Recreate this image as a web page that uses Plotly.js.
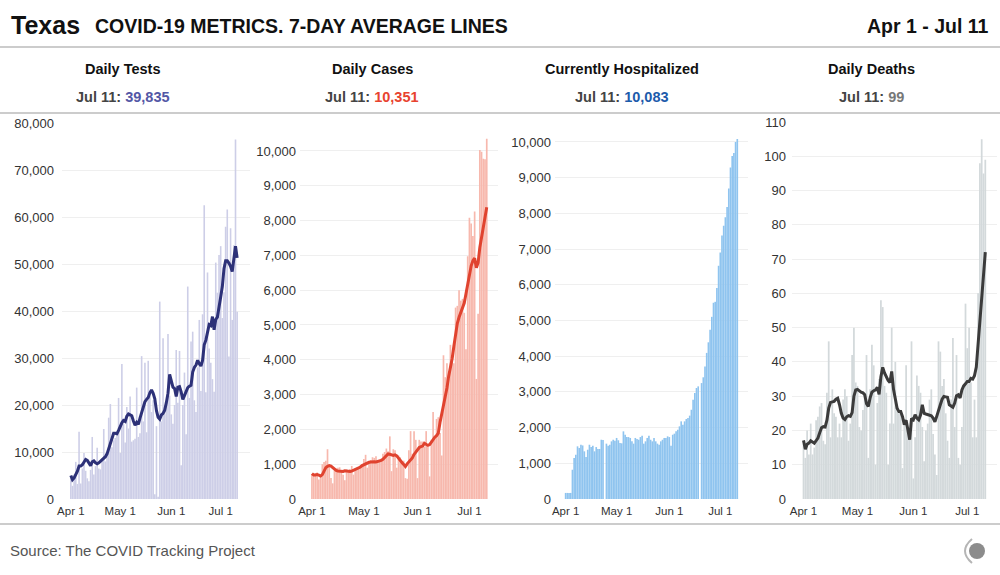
<!DOCTYPE html>
<html><head><meta charset="utf-8">
<script src="https://cdn.plot.ly/plotly-3.0.1.min.js"></script>
<style>html,body{margin:0;padding:0;background:#fff}#chart{width:1000px;height:575px}</style>
</head><body><div id="chart"></div>
<script>
// Day index 0 = Apr 1, 101 = Jul 11
const dayIndex = []; for (let i = 0; i < 102; i++) dayIndex.push(i);
const tickDays = [0, 30, 61, 91];
const tickLabels = ['Apr 1', 'May 1', 'Jun 1', 'Jul 1'];

const testsDaily = [4500,2800,5200,7900,3200,14300,3300,6500,9800,6000,
 4400,3800,6200,13200,5200,7000,10900,6500,6300,8200,
 14900,8000,9500,17300,20200,11000,12500,13000,13800,21500,
 9800,28700,16000,12000,19600,15000,21800,12200,12500,12800,
 23700,13200,14000,30400,16500,29000,14200,29400,22000,18500,
 21000,1000,15500,500,42000,16500,34200,18000,20500,35100,
 22000,18000,16000,20000,31700,20500,31500,7200,20000,26900,
 13800,45200,21500,33500,35600,21000,18500,28000,38100,23000,
 39300,62500,22700,48200,32000,29000,25500,22800,50300,43900,
 51900,53800,38500,44000,57900,61600,30300,57600,38100,54000,
 76500,39835];
const testsAvg = [5000,4100,4500,5200,5900,7000,7000,7300,7900,8400,
 8200,7700,7100,7900,8100,7700,7500,7700,8000,8200,
 8600,9000,9600,10700,11900,13000,14000,14000,13900,14600,
 15500,16200,16700,16500,17600,18100,17900,17700,16600,15700,
 16300,15900,17200,18500,19200,20700,21200,21600,22600,23200,
 22500,21300,18800,17400,17000,17900,18200,18900,20500,22500,
 26500,25000,23800,23500,21800,23800,23900,22800,21200,22000,
 23000,23700,24000,24200,27000,28000,28500,29500,28800,28300,
 29500,32800,33800,35500,37100,36900,38800,36000,38200,38700,
 40500,43000,45200,49000,50700,50700,50200,49500,48400,51000,
 53800,51300];

const casesDaily = [720,700,740,760,560,680,1000,1060,1100,1430,
 940,600,450,820,880,900,910,780,700,540,
 850,820,860,950,700,880,900,920,960,1000,
 1150,1270,900,1050,1120,1200,1180,1230,1080,1100,
 1150,1300,1350,1450,1370,1800,800,1430,1400,900,
 1250,1200,1050,1100,600,580,1400,1950,1300,1950,
 1700,600,1700,1650,1650,1500,1950,1500,650,1700,
 2500,1750,2300,2350,1900,1250,4130,3500,3900,3450,
 4430,4100,3900,5500,5550,6000,5700,5750,5350,4300,
 6975,8080,7915,7555,8258,3450,5320,10030,9980,9780,
 9765,10351];
const casesAvg = [730,690,690,700,685,660,700,810,900,940,
 960,945,900,850,820,805,795,785,790,810,
 805,785,790,800,820,840,865,890,920,960,
 990,1015,1035,1055,1065,1075,1070,1065,1075,1085,
 1110,1140,1200,1250,1295,1285,1270,1255,1270,1240,
 1175,1100,1050,995,935,1010,1075,1130,1180,1280,
 1360,1420,1480,1505,1520,1600,1560,1540,1565,1640,
 1720,1775,1820,1890,2200,2430,2640,2870,3190,3530,
 3760,4030,4390,4800,5050,5220,5360,5480,5630,5900,
 6200,6470,6700,6850,6918,6645,6792,7228,7500,7767,
 8083,8382];

const hospCurrent = [170,170,170,170,820,1150,1240,1475,1430,1520,
 1500,1335,1175,1380,1520,1455,1495,1335,1455,1400,
 1400,1660,1650,null,1550,1495,1520,1615,1660,1635,
 1710,1645,1570,1560,1895,1800,1735,1735,1710,1615,
 1550,1710,1680,1660,1735,1775,1550,1615,1710,1775,
 1660,1615,1710,1615,1550,1520,1615,1660,1710,1710,
 1755,1735,1495,1800,1830,1895,1940,2035,2175,2080,
 2175,2240,2270,2335,2500,2780,2970,3110,3155,null,
 3247,3409,3711,4092,4389,4739,5102,5497,5523,5913,
 6533,6904,7382,7652,7890,8181,8698,9286,9610,9689,
 10002,10083];

const deathsDaily = [16,12,20,13,22,13,15,23,24,27,
 28,17,16,31,46,18,32,25,24,18,
 22,18,29,32,30,17,22,42,50,34,
 33,21,20,26,31,42,12,32,45,39,
 10,28,35,58,56,33,31,10,22,50,
 22,40,27,25,26,9,22,39,21,19,
 46,6,18,36,33,31,21,11,20,22,
 29,32,19,13,7,46,43,33,35,25,
 17,12,29,47,21,42,12,10,21,33,
 57,44,50,34,18,29,18,60,98,105,
 95,99];
const deathsAvg = [17.1,14.5,16.0,16.3,17.0,16.6,16.3,17.0,17.8,19.3,
 20.8,21.1,21.0,23.0,26.5,28.2,28.4,28.5,29.1,29.4,
 27.5,25.0,23.6,23.2,24.0,24.3,24.1,25.2,30.0,31.8,
 32.0,31.5,31.2,31.0,30.4,27.8,27.0,29.5,31.2,31.6,
 31.8,32.6,30.5,35.7,38.4,36.8,35.6,34.6,34.0,37.2,
 32.0,29.5,26.5,25.5,25.5,24.0,21.7,23.0,20.0,17.3,
 23.5,23.1,24.6,23.6,23.1,24.5,27.5,25.0,24.8,24.6,
 24.6,24.3,23.6,22.5,24.1,26.2,27.5,29.1,29.9,29.8,
 29.7,27.5,27.0,26.8,28.0,30.1,30.4,29.5,31.8,33.0,
 33.6,34.3,34.3,35.2,35.0,36.0,38.5,45.0,52.5,60.0,
 66.5,72.0];

const panelTitles = ['Daily Tests', 'Daily Cases', 'Currently Hospitalized', 'Daily Deaths'];
const latestLabels = ['39,835', '10,351', '10,083', '99'];

const W = 1000, H = 575;
const px = v => v / W;
const py = v => (H - v) / H;
const FONT = 'Liberation Sans, Arial, sans-serif';
const HEAD = 'Liberation Sans, Arial, sans-serif';

const barColors = ['#cdcee7', '#f7b8ad', '#8fc4ef', '#d3d9db'];
const lineColors = ['#2d3178', '#e0432f', null, '#3b3b3b'];
const numColors = ['#5357a6', '#e8432f', '#1d5bab', '#777777'];

const traces = [
  {type:'bar', x:dayIndex, y:testsDaily, xaxis:'x', yaxis:'y', marker:{color:barColors[0], line:{width:0}}},
  {type:'scatter', mode:'lines', x:dayIndex, y:testsAvg, xaxis:'x', yaxis:'y', line:{color:lineColors[0], width:3}},
  {type:'bar', x:dayIndex, y:casesDaily, xaxis:'x2', yaxis:'y2', marker:{color:barColors[1], line:{width:0}}},
  {type:'scatter', mode:'lines', x:dayIndex, y:casesAvg, xaxis:'x2', yaxis:'y2', line:{color:lineColors[1], width:3}},
  {type:'bar', x:dayIndex, y:hospCurrent, xaxis:'x3', yaxis:'y3', marker:{color:barColors[2], line:{width:0}}},
  {type:'bar', x:dayIndex, y:deathsDaily, xaxis:'x4', yaxis:'y4', marker:{color:barColors[3], line:{width:0}}},
  {type:'scatter', mode:'lines', x:dayIndex, y:deathsAvg, xaxis:'x4', yaxis:'y4', line:{color:lineColors[3], width:3}}
];

const yDom = [py(499), py(122)];
function xa(d0, d1, r0, r1, anchor) {
  return {domain:[px(d0), px(d1)], range:[r0, r1], anchor:anchor, tickvals:tickDays, ticktext:tickLabels,
    showgrid:false, zeroline:false, showline:false, ticks:'', ticklabelstandoff:3,
    tickfont:{family:FONT, size:11.5, color:'#333'}, fixedrange:true};
}
function ya(top, dtick, anchor, standoff) {
  return {domain:yDom, range:[0, top], dtick:dtick, anchor:anchor, tickformat:',d',
    showgrid:true, gridcolor:'#efefef', gridwidth:1, zeroline:false, showline:false, ticks:'',
    ticklabelstandoff:standoff, tickfont:{family:FONT, size:13, color:'#333'}, fixedrange:true};
}

const centers = [123, 372, 622, 871];
const annotations = [
  {text:'<b>Texas</b>', x:px(9), y:py(25), xref:'paper', yref:'paper', xanchor:'left', yanchor:'middle', showarrow:false, font:{family:HEAD, size:25, color:'#111'}},
  {text:'<b>COVID-19 METRICS. 7-DAY AVERAGE LINES</b>', x:px(93), y:py(26), xref:'paper', yref:'paper', xanchor:'left', yanchor:'middle', showarrow:false, font:{family:HEAD, size:19.5, color:'#111'}},
  {text:'<b>Apr 1 - Jul 11</b>', x:px(991), y:py(26), xref:'paper', yref:'paper', xanchor:'right', yanchor:'middle', showarrow:false, font:{family:HEAD, size:19.5, color:'#111'}},
  {text:'Source: The COVID Tracking Project', x:px(8), y:py(550), xref:'paper', yref:'paper', xanchor:'left', yanchor:'middle', showarrow:false, font:{family:FONT, size:15, color:'#555'}}
];
panelTitles.forEach((t, i) => {
  annotations.push({text:'<b>' + t + '</b>', x:px(centers[i]), y:py(69), xref:'paper', yref:'paper', xanchor:'center', yanchor:'middle', showarrow:false, font:{family:FONT, size:14.5, color:'#111'}});
  annotations.push({text:'<b>Jul 11: <span style="color:' + numColors[i] + '">' + latestLabels[i] + '</span></b>', x:px(centers[i]), y:py(97), xref:'paper', yref:'paper', xanchor:'center', yanchor:'middle', showarrow:false, font:{family:FONT, size:14.5, color:'#444'}});
});

const shapes = [
  {type:'line', xref:'paper', yref:'paper', x0:0, x1:1, y0:py(47), y1:py(47), line:{color:'#cccccc', width:2}},
  {type:'line', xref:'paper', yref:'paper', x0:0, x1:1, y0:py(113), y1:py(113), line:{color:'#cccccc', width:2}},
  {type:'line', xref:'paper', yref:'paper', x0:0, x1:1, y0:py(524), y1:py(524), line:{color:'#cccccc', width:2}},
  {type:'circle', xref:'paper', yref:'paper', x0:px(969), x1:px(985), y0:py(559), y1:py(543), fillcolor:'#8c8c8c', line:{width:0}},
  {type:'path', xref:'paper', yref:'paper', path:'M ' + px(972) + ',' + py(539) + ' Q ' + px(958) + ',' + py(551) + ' ' + px(972) + ',' + py(563), line:{color:'#b5b5b5', width:2}}
];

const layout = {
  width:W, height:H, margin:{l:0, r:0, t:0, b:0}, paper_bgcolor:'#fff', plot_bgcolor:'rgba(0,0,0,0)',
  showlegend:false, bargap:0.03, font:{family:FONT},
  xaxis:  xa(62, 250, -5.36, 108.8, 'y'),
  xaxis2: xa(300, 498, -6.9, 107.5, 'y2'),
  xaxis3: xa(555, 748, -6.26, 107.3, 'y3'),
  xaxis4: xa(792, 997, -6.4, 107.5, 'y4'),
  yaxis:  ya(80213, 10000, 'x', 7),
  yaxis2: ya(10833, 1000, 'x2', 3),
  yaxis3: ya(10560, 1000, 'x3', 3),
  yaxis4: ya(110, 10, 'x4', 5),
  annotations:annotations, shapes:shapes
};

Plotly.newPlot('chart', traces, layout, {staticPlot:true, displayModeBar:false});
</script></body></html>
